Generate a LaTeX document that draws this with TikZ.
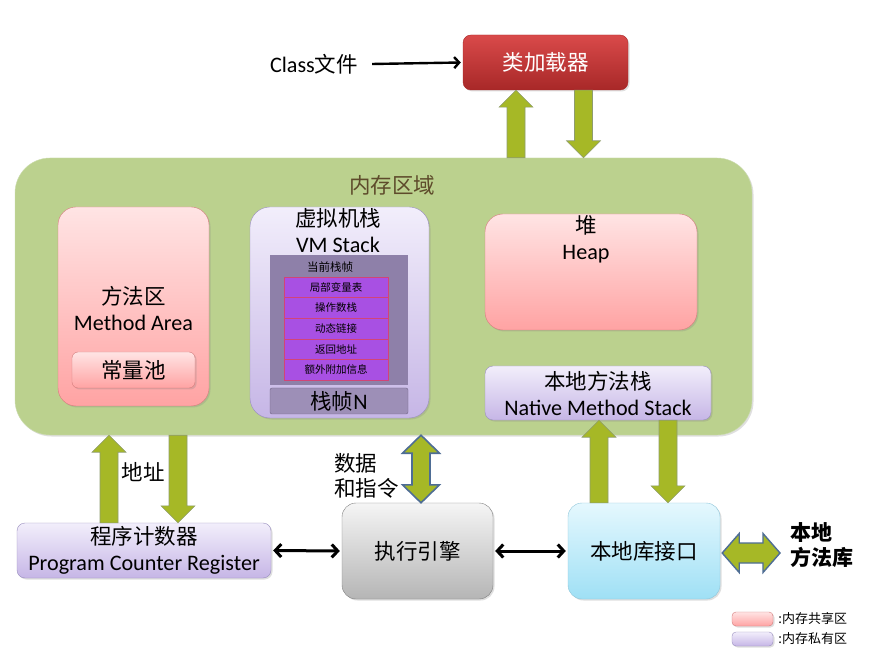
\documentclass[tikz,border=0pt]{standalone}
\usepackage{fontspec}
\setmainfont{Carlito}[Scale=1.03]
\newfontfamily\cjk{Noto Sans CJK SC}
\usetikzlibrary{arrows.meta,shadows,calc}
\definecolor{MemGreen}{HTML}{BBD18E}
\definecolor{MemLine}{HTML}{CCDCB0}
\definecolor{MemText}{HTML}{5E4B2B}
\definecolor{SharedTop}{HTML}{FFE4E4}
\definecolor{SharedBottom}{HTML}{FFA3A3}
\definecolor{SharedLine}{HTML}{D47C7C}
\definecolor{PrivTop}{HTML}{F2EEFB}
\definecolor{PrivBottom}{HTML}{C6B6E6}
\definecolor{PrivLine}{HTML}{9A8FBF}
\definecolor{LoaderTop}{HTML}{D94A4A}
\definecolor{LoaderBottom}{HTML}{A82828}
\definecolor{EngineTop}{HTML}{F5F5F5}
\definecolor{EngineBottom}{HTML}{B5B5B5}
\definecolor{NativeTop}{HTML}{E5F8FE}
\definecolor{NativeBottom}{HTML}{9FE0F5}
\definecolor{NativeLine}{HTML}{8FC6DA}
\definecolor{FrameGrey}{HTML}{8E80A9}
\definecolor{RowViolet}{HTML}{A850E3}
\definecolor{RowLine}{HTML}{D24477}
\definecolor{FrameN}{HTML}{9D8FB7}
\definecolor{ArrowGreen}{HTML}{A6B826}
\definecolor{ArrowLine}{HTML}{8E9C70}
\definecolor{ArrowBlue}{HTML}{4E6D95}
\tikzset{
every node/.style={font=\fontsize{21.5}{26}\selectfont},
txt/.style={align=center,inner sep=0pt},
basebox/.style={draw,thin,align=center,inner sep=0pt,drop shadow={opacity=0.25,shadow xshift=1.5pt,shadow yshift=-1.5pt}},
membox/.style={basebox,rounded corners=35pt,fill=MemGreen,draw=MemLine},
shared/.style={basebox,rounded corners=18pt,draw=SharedLine,top color=SharedTop,bottom color=SharedBottom},
private/.style={basebox,rounded corners=8pt,draw=PrivLine,top color=PrivTop,bottom color=PrivBottom},
loaderbox/.style={basebox,rounded corners=8pt,draw=LoaderBottom,top color=LoaderTop,bottom color=LoaderBottom,text=white},
enginebox/.style={basebox,rounded corners=14pt,draw=gray,top color=EngineTop,bottom color=EngineBottom},
nativebox/.style={basebox,rounded corners=14pt,draw=NativeLine,top color=NativeTop,bottom color=NativeBottom},
framebox/.style={fill=FrameGrey,inner sep=0pt},
rowbox/.style={draw=RowLine,fill=RowViolet,inner sep=0pt,minimum width=104,minimum height=20.6,font=\cjk\fontsize{10.5}{12}\selectfont},
framenbox/.style={draw=FrameGrey!80!black,fill=FrameN,rounded corners=2pt,inner sep=0pt},
greenblock/.style={fill=ArrowGreen,draw=ArrowLine,line width=0.6pt},
blueblock/.style={fill=ArrowGreen,draw=ArrowBlue,line width=1.6pt,line join=miter},
blackarrow/.style={line width=3pt,{Straight Barb[length=6pt,width=13pt]}-{Straight Barb[length=6pt,width=13pt]}},
thinarrow/.style={line width=2.4pt,-{Straight Barb[length=5pt,width=11pt]}}
}
% block arrows: #1 x, #2 start, #3 tip
\newcommand{\upblock}[3]{\draw[greenblock] let \p1=(#2), \p2=(#3) in
  (#1-9,\y1) -- (#1-9,\y2-17) -- (#1-17,\y2-17) -- (#1,\y2) -- (#1+17,\y2-17) -- (#1+9,\y2-17) -- (#1+9,\y1) -- cycle;}
\newcommand{\downblock}[3]{\draw[greenblock] let \p1=(#2), \p2=(#3) in
  (#1-9,\y1) -- (#1-9,\y2+17) -- (#1-17,\y2+17) -- (#1,\y2) -- (#1+17,\y2+17) -- (#1+9,\y2+17) -- (#1+9,\y1) -- cycle;}
\begin{document}
\begin{tikzpicture}[x=1pt,y=1pt]
    \useasboundingbox[fill=white] (0,0) rectangle (882,656);

    % memory area
    \node[membox,minimum width=737,minimum height=277] (mem) at (383.5,359.5) {};
    \node[txt,text=MemText] (memlabel) at (392,471) {\cjk 内存区域};

    \node[shared,minimum width=151,minimum height=199] (method) at (133.5,349.5) {};
    \node[txt] (methodtext) at (133.5,348) {{\cjk 方法区}\\Method Area};
    \node[shared,rounded corners=6pt,minimum width=123,minimum height=36] (pool) at (133.5,286) {\cjk 常量池};

    \node[private,rounded corners=20pt,minimum width=179,minimum height=211] (vmstack) at (339.5,343.5) {};
    \node[txt] (vmtext) at (338,425) {{\cjk 虚拟机栈}\\VM Stack};
    \node[framebox,minimum width=138,minimum height=130] (curframe) at (339,336) {};
    \node[txt,font=\cjk\fontsize{11.5}{13}\selectfont] (curtext) at (330,389) {当前栈帧};
    \foreach \name [count=\i] in {局部变量表,操作数栈,动态链接,返回地址,额外附加信息}
        \node[rowbox] (row\i) at (336,{368.7-(\i-1)*20.6}) {\name};
    \node[framenbox,minimum width=138,minimum height=26] (framen) at (339,255) {{\cjk 栈帧}N};

    \node[shared,minimum width=212,minimum height=116] (heap) at (591,384) {};
    \node[txt] (heaptext) at (586,417) {{\cjk 堆}\\Heap};
    \node[private,minimum width=226,minimum height=54] (nstack) at (598,263) {{\cjk 本地方法栈}\\Native Method Stack};

    % loader
    \node[loaderbox,minimum width=165,minimum height=55] (loader) at (545.5,593.5) {\cjk 类加载器};
    \node[txt] (classfile) at (314,592) {Class{\cjk 文件}};
    \draw[thinarrow] ([xshift=14pt]classfile.east) -- ([xshift=-2pt]loader.west);
    \upblock{516}{mem.north}{loader.south}
    \downblock{583.5}{loader.south}{mem.north}

    % bottom row
    \node[private,minimum width=254,minimum height=55] (pc) at (144,105.5) {{\cjk 程序计数器}\\Program Counter Register};
    \node[enginebox,minimum width=151,minimum height=96] (engine) at (417.5,105) {\cjk 执行引擎};
    \node[nativebox,minimum width=152,minimum height=96] (nli) at (644,105) {\cjk 本地库接口};
    \node[txt,anchor=west,align=left,font=\cjk\bfseries\fontsize{21}{25}\selectfont] (lib) at (790,110.5) {本地\\方法库};

    \draw[blackarrow] ([xshift=2pt]pc.east) -- ([xshift=-2pt]engine.west);
    \draw[blackarrow] ([xshift=2pt]engine.east) -- ([xshift=-2pt]nli.west);

    \upblock{109}{pc.north}{mem.south}
    \downblock{178}{mem.south}{pc.north}
    \node[txt] (addr) at (143,184) {\cjk 地址};

    \upblock{599}{nli.north}{nstack.south}
    \downblock{668}{nstack.south}{nli.north}

    \draw[blueblock] let \p1=(engine.north), \p2=(mem.south) in
        (421,\y2) -- (439.5,\y2-18) -- (430,\y2-18) -- (430,\y1+18) -- (439.5,\y1+18) -- (421,\y1)
        -- (402.5,\y1+18) -- (412,\y1+18) -- (412,\y2-18) -- (402.5,\y2-18) -- cycle;
    \node[txt,anchor=west,align=left,font=\cjk\fontsize{21.5}{25}\selectfont] (data) at (334,180) {数据\\和指令};

    \draw[blueblock,line width=1.4pt] let \p1=(nli.east), \p2=(lib.west) in
        (\x1+2,\y1-2) -- (\x1+19,\y1+17.5) -- (\x1+19,\y1+8) -- (\x2-27,\y1+8) -- (\x2-27,\y1+17.5)
        -- (\x2-10,\y1-2) -- (\x2-27,\y1-21.5) -- (\x2-27,\y1-12) -- (\x1+19,\y1-12) -- (\x1+19,\y1-21.5) -- cycle;

    % legend
    \node[shared,rounded corners=4pt,minimum width=41,minimum height=14] (legshared) at (752.5,37) {};
    \node[txt,anchor=west,font=\cjk\fontsize{13}{15}\selectfont] (legsharedtext) at ([xshift=5pt]legshared.east) {:内存共享区};
    \node[private,rounded corners=4pt,minimum width=41,minimum height=14] (legprivate) at (752.5,17) {};
    \node[txt,anchor=west,font=\cjk\fontsize{13}{15}\selectfont] (legprivatetext) at ([xshift=5pt]legprivate.east) {:内存私有区};
\end{tikzpicture}
\end{document}
